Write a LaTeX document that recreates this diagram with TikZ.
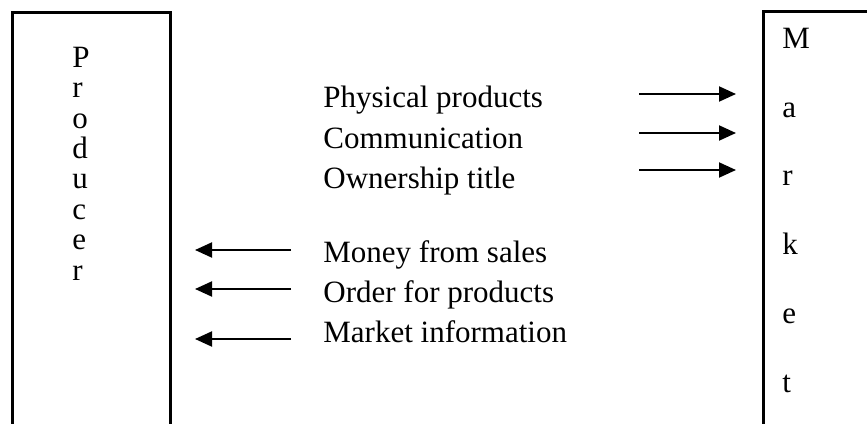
\documentclass[tikz,border=0pt]{standalone}
\usepackage{fontspec}
\setmainfont{Liberation Serif}
\usetikzlibrary{arrows.meta, positioning, calc}
\tikzstyle{party} = [line width=1.5pt, black]
\tikzstyle{letters} = [anchor=north west, inner sep=0pt, align=left]
\tikzstyle{flow-label} = [anchor=base west, inner sep=0pt, font=\fontsize{15.5}{18}\selectfont]
\tikzstyle{flow} = [line width=1pt, -{Triangle[length=8.5pt, width=7.5pt]}]

\begin{document}
\begin{tikzpicture}[x=0.5pt, y=-0.5pt]
    \useasboundingbox (0,0) rectangle (867,423);
    \clip (0,0) rectangle (867,423);

    % the two parties
    \draw[party] (12,440) -- (12,12) -- (170,12) -- (170,440);
    \draw[party] (763,440) -- (763,11) -- (880,11);
    \node (producer) [letters, font=\fontsize{15.5}{15.2}\selectfont] at (72,46.5) {P\\r\\o\\d\\u\\c\\e\\r};
    \node (market) [letters, font=\fontsize{15.5}{34.4}\selectfont] at (782,27.5) {M\\a\\r\\k\\e\\t};

    % producer to market
    \node (physical) [flow-label] at (323,107) {Physical products};
    \node (communication) [flow-label] at (323,148) {Communication};
    \node (ownership) [flow-label] at (323,188) {Ownership title};

    \coordinate (physical-from) at (639,94);
    \coordinate (physical-to) at (736,94);
    \coordinate (communication-from) at (639,133);
    \coordinate (communication-to) at (736,133);
    \coordinate (ownership-from) at (639,170);
    \coordinate (ownership-to) at (736,170);
    \draw[flow] (physical-from) -- (physical-to);
    \draw[flow] (communication-from) -- (communication-to);
    \draw[flow] (ownership-from) -- (ownership-to);

    % market to producer
    \node (money) [flow-label] at (323,262) {Money from sales};
    \node (order) [flow-label] at (323,302) {Order for products};
    \node (information) [flow-label] at (323,342) {Market information};

    \coordinate (money-from) at (291,250);
    \coordinate (money-to) at (195,250);
    \coordinate (order-from) at (291,289);
    \coordinate (order-to) at (195,289);
    \coordinate (information-from) at (291,339);
    \coordinate (information-to) at (195,339);
    \draw[flow] (money-from) -- (money-to);
    \draw[flow] (order-from) -- (order-to);
    \draw[flow] (information-from) -- (information-to);
\end{tikzpicture}
\end{document}
